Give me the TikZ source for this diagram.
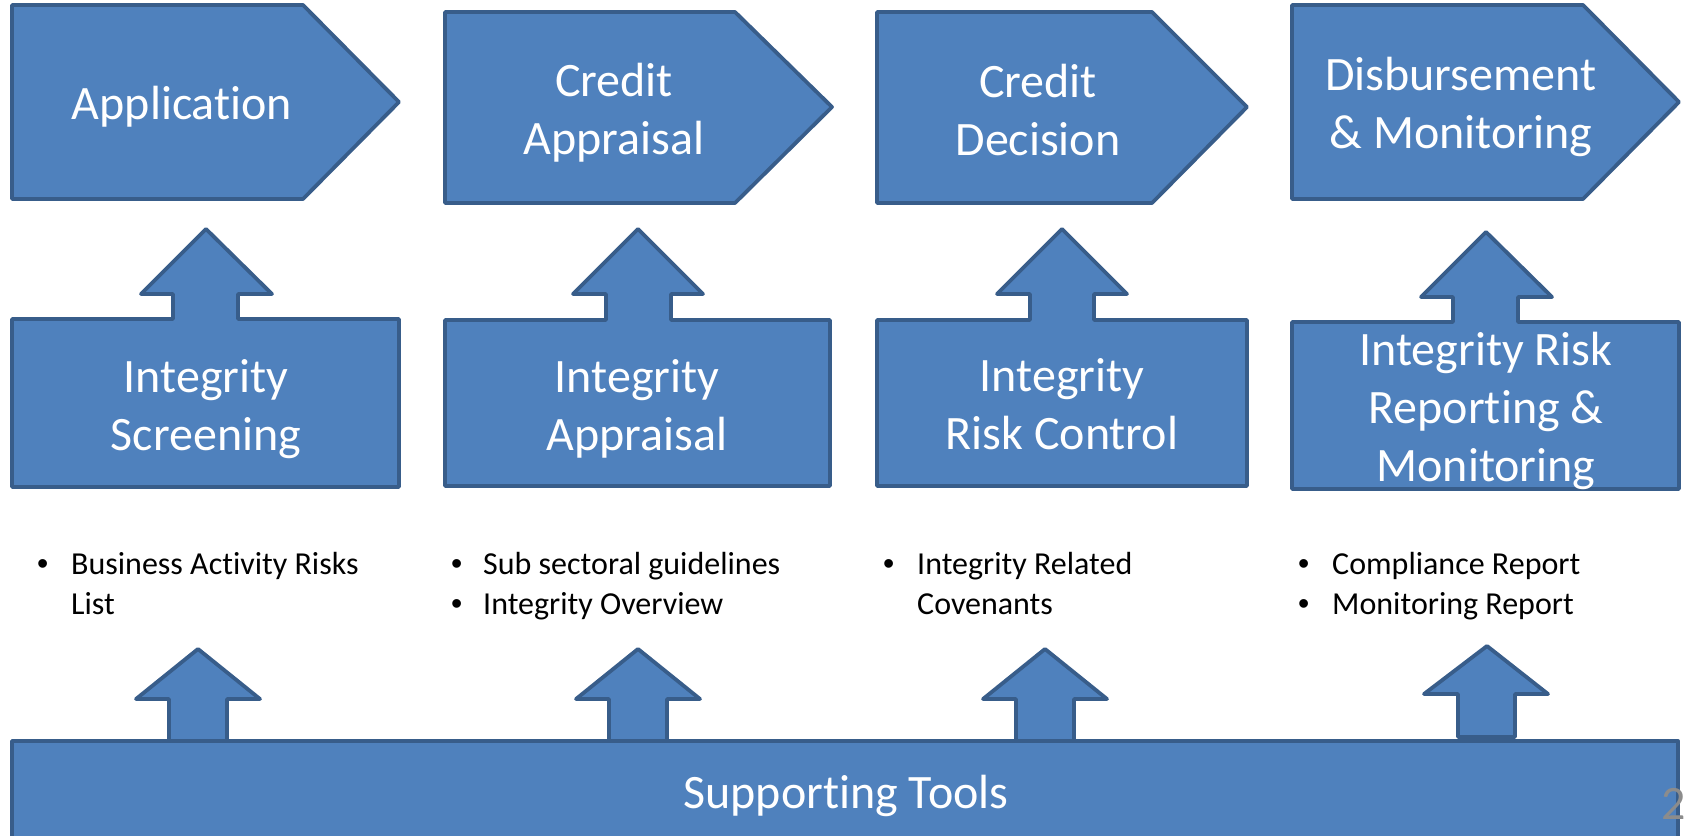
\documentclass[tikz,border=0pt]{standalone}
\usepackage{fontspec}
\setmainfont{Carlito}[Ligatures={NoCommon,NoContextual}, Contextuals=NoAlternate]
\newfontfamily\bulletfont{Liberation Sans}
\definecolor{blockfill}{HTML}{4F81BD}
\definecolor{blockline}{HTML}{385D8A}
\definecolor{pagegray}{HTML}{8C8C8C}
\newcommand{\tb}{{\bulletfont\textbullet}}

\begin{document}
\begin{tikzpicture}[x=1pt,y=-1pt]
    \tikzset{block/.style = {draw=blockline, fill=blockfill, line width=3.8pt, line join=round}}
    \tikzset{boxtext/.style = {text=white, align=center, inner sep=0pt, font=\fontsize{48}{58}\selectfont}}
    \tikzset{tooltext/.style = {anchor=base west, inner sep=0pt, font=\fontsize{32}{40}\selectfont}}
    \clip (0,0) rectangle (1685,835);
    % process steps
    \draw[block] (12,5) -- (303,5) -- (399,102) -- (303,199) -- (12,199) -- cycle;
    \draw[block] (445,12) -- (735,12) -- (832,107) -- (735,203) -- (445,203) -- cycle;
    \draw[block] (877,12) -- (1152,12) -- (1247,107) -- (1152,203) -- (877,203) -- cycle;
    \draw[block] (1292,5) -- (1583,5) -- (1679,102) -- (1583,199) -- (1292,199) -- cycle;
    % integrity steps with up arrows
    \draw[block] (12,319) -- (173,319) -- (173,294) -- (141,294) -- (206,229) -- (272,294) -- (238,294) -- (238,319) -- (399,319) -- (399,487) -- (12,487) -- cycle;
    \draw[block] (445,320) -- (606,320) -- (606,294) -- (573,294) -- (638,229) -- (703,294) -- (671,294) -- (671,320) -- (830,320) -- (830,486) -- (445,486) -- cycle;
    \draw[block] (877,320) -- (1030,320) -- (1030,294) -- (997,294) -- (1062,229) -- (1127,294) -- (1094,294) -- (1094,320) -- (1247,320) -- (1247,486) -- (877,486) -- cycle;
    \draw[block] (1292,322) -- (1453,322) -- (1453,297) -- (1421,297) -- (1486,232) -- (1552,297) -- (1518,297) -- (1518,322) -- (1679,322) -- (1679,489) -- (1292,489) -- cycle;
    % supporting tools bar and its arrows
    \draw[block] (12,741) rectangle (1678,850);
    \draw[block] (169,741) -- (169,699) -- (136,699) -- (198,649) -- (260,699) -- (227,699) -- (227,741) -- cycle;
    \draw[block] (609,741) -- (609,699) -- (576,699) -- (638,649) -- (700,699) -- (667,699) -- (667,741) -- cycle;
    \draw[block] (1016,741) -- (1016,699) -- (983,699) -- (1045,649) -- (1107,699) -- (1074,699) -- (1074,741) -- cycle;
    \draw[block] (1458,737) -- (1458,694) -- (1424,694) -- (1487,646) -- (1548,694) -- (1515,694) -- (1515,737) -- cycle;
    % labels
    \node[boxtext] (app) at (182,107) {Application};
    \node[boxtext] (credapp) at (614,113) {Credit\\Appraisal};
    \node[boxtext] (creddec) at (1038,110) {Credit\\Decision};
    \node[boxtext] (disb) at (1461,107) {Disbursement\\\& Monitoring};
    \node[boxtext] (screen) at (206,409) {Integrity\\Screening};
    \node[boxtext] (intapp) at (637,409) {Integrity\\Appraisal};
    \node[boxtext] (riskctl) at (1062,404) {Integrity\\Risk Control};
    \node[boxtext] (report) at (1486,411) {Integrity Risk\\Reporting \&\\Monitoring};
    \node[boxtext] (tools) at (846,796) {Supporting Tools};
    % tools per step
    \node[tooltext] (toolsa) at (37,574) {\begin{tabular}[t]{@{}p{34pt}@{}l@{}}\tb & Business Activity Risks\\ & List\end{tabular}};
    \node[tooltext] (toolsb) at (451,574) {\begin{tabular}[t]{@{}p{32pt}@{}l@{}}\tb & Sub sectoral guidelines\\ \tb & Integrity Overview\end{tabular}};
    \node[tooltext] (toolsc) at (883,574) {\begin{tabular}[t]{@{}p{34pt}@{}l@{}}\tb & Integrity Related\\ & Covenants\end{tabular}};
    \node[tooltext] (toolsd) at (1298,574) {\begin{tabular}[t]{@{}p{34pt}@{}l@{}}\tb & Compliance Report\\ \tb & Monitoring Report\end{tabular}};
    % page number
    \node[anchor=base west, inner sep=0pt, text=pagegray, font=\fontsize{48}{58}\selectfont] (pagenum) at (1661,819) {2};
\end{tikzpicture}
\end{document}
